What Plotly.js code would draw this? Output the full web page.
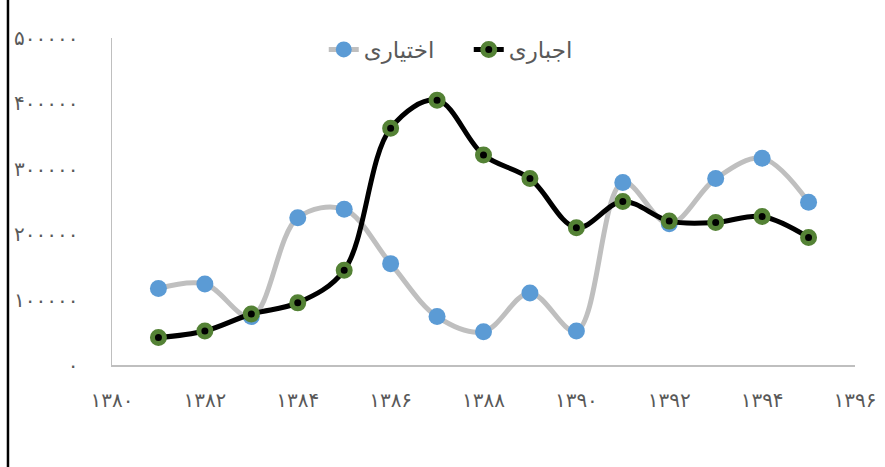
<!DOCTYPE html>
<html>
<head>
<meta charset="utf-8">
<script src="https://cdn.plot.ly/plotly-3.0.1.min.js"></script>
<style>html,body{margin:0;padding:0;background:#fff;}#chart{width:885px;height:467px;}</style>
</head>
<body>
<div id="chart"></div>
<script>
const years = [1381,1382,1383,1384,1385,1386,1387,1388,1389,1390,1391,1392,1393,1394,1395];
const optional = [117000,124000,74000,225000,238000,155000,74000,51000,110000,52000,279000,216000,285000,316000,249000];
const mandatory = [42000,52000,78000,95000,145000,362000,405000,321000,285000,210000,250000,220000,218000,227000,195000];
const seriesNames = ['اختیاری','اجباری'];
const xTickVals = [1380,1382,1384,1386,1388,1390,1392,1394,1396];
const xTickText = ['۱۳۸۰','۱۳۸۲','۱۳۸۴','۱۳۸۶','۱۳۸۸','۱۳۹۰','۱۳۹۲','۱۳۹۴','۱۳۹۶'];
const yTickVals = [0,100000,200000,300000,400000,500000];
const yTickText = ['۰','۱۰۰۰۰۰','۲۰۰۰۰۰','۳۰۰۰۰۰','۴۰۰۰۰۰','۵۰۰۰۰۰'];

const fam = '"DejaVu Sans", "Noto Sans", sans-serif';

const traces = [
  {x:years, y:optional, name:seriesNames[0], type:'scatter', mode:'lines+markers',
   line:{color:'#BFBFBF', width:5, shape:'spline', smoothing:1},
   marker:{color:'#5B9BD5', size:17, line:{width:0}}},
  {x:years, y:mandatory, name:seriesNames[1], type:'scatter', mode:'lines+markers',
   line:{color:'#000000', width:5, shape:'spline', smoothing:1},
   marker:{color:'#000000', size:12, line:{color:'#548235', width:5}}}
];

const layout = {
  width:885, height:467,
  margin:{l:112, r:30, t:38, b:102, pad:0},
  paper_bgcolor:'#ffffff', plot_bgcolor:'#ffffff',
  font:{family:fam, size:16, color:'#595959'},
  showlegend:true,
  legend:{orientation:'h', x:0.285, xanchor:'left', y:0.965, yanchor:'middle',
          entrywidth:100, entrywidthmode:'pixels',
          font:{family:fam, size:23, color:'#595959'}, bgcolor:'rgba(0,0,0,0)'},
  xaxis:{range:[1380,1396], tickvals:xTickVals, ticktext:xTickText, showgrid:false, zeroline:false,
         showline:true, linecolor:'#BFBFBF', linewidth:1.5, ticks:'', ticklabelstandoff:16,
         tickfont:{family:fam, size:20, color:'#595959'}, fixedrange:true},
  yaxis:{range:[0,500000], tickvals:yTickVals, ticktext:yTickText, showgrid:false, zeroline:false,
         showline:true, linecolor:'#BFBFBF', linewidth:1.5, ticks:'', ticklabelstandoff:28,
         tickfont:{family:fam, size:20, color:'#595959'}, fixedrange:true},
  shapes:[{type:'line', xref:'paper', yref:'paper', x0:-0.14, x1:-0.14, y0:-0.35, y1:1.2,
           line:{color:'#000000', width:2.5}}]
};

Plotly.newPlot('chart', traces, layout, {displayModeBar:false, staticPlot:true});
</script>
</body>
</html>
